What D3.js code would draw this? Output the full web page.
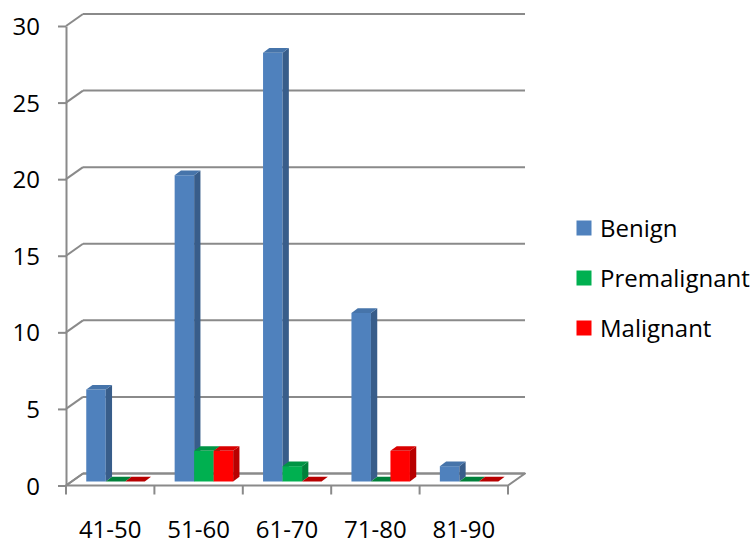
<!DOCTYPE html>
<html>
<head>
<meta charset="utf-8">
<script src="https://cdn.jsdelivr.net/npm/d3@7"></script>
<style>
  html, body { margin: 0; padding: 0; background: #fff; }
  svg { display: block; }
  text { font-family: "Open Sans", "Liberation Sans", sans-serif; fill: #000; }
</style>
</head>
<body>
<svg id="chart" width="755" height="544"></svg>
<script>
const categories = ["41-50", "51-60", "61-70", "71-80", "81-90"];
const seriesNames = ["Benign", "Premalignant", "Malignant"];
const benign = [6, 20, 28, 11, 1];
const premalignant = [0, 2, 1, 0, 0];
const malignant = [0, 2, 0, 2, 0];
const yTicks = [0, 5, 10, 15, 20, 25, 30];

const seriesValues = [benign, premalignant, malignant];
const colors = {
  Benign:       { front: "#4F81BD", side: "#385D8A", top: "#4674AA" },
  Premalignant: { front: "#00B050", side: "#00803A", top: "#009444" },
  Malignant:    { front: "#FF0000", side: "#B80000", top: "#D90000" }
};

const svg = d3.select("#chart");
const gridColor = "#8A8A8A";
const fontSize = "24px";

// Scales (front plane)
const x = d3.scaleBand().domain(categories).range([66, 508]).paddingInner(0).paddingOuter(0);
const y = d3.scaleLinear().domain([0, 30]).range([485.5, 26]);

// Depth offsets
const WDX = 17, WDY = -12;      // wall depth
const BOX = 5.3, BOY = -4;      // bar front face offset into depth
const BDX = 6.3, BDY = -4.7;    // bar depth
const barW = 19.5;

const g = svg.append("g");

// Floor
const fx0 = x.range()[0], fx1 = x.range()[1], fy = y(0);
g.append("path")
  .attr("d", `M${fx0},${fy}L${fx1},${fy}L${fx1 + WDX},${fy + WDY}L${fx0 + WDX},${fy + WDY}Z`)
  .attr("fill", "#fff").attr("stroke", gridColor).attr("stroke-width", 2)
  .attr("stroke-linejoin", "round");

// Back wall gridlines + left wall diagonals
yTicks.forEach(t => {
  const yy = y(t);
  g.append("line")
    .attr("x1", fx0 + WDX).attr("x2", fx1 + WDX)
    .attr("y1", yy + WDY).attr("y2", yy + WDY)
    .attr("stroke", gridColor).attr("stroke-width", 2);
  g.append("line")
    .attr("x1", fx0).attr("x2", fx0 + WDX)
    .attr("y1", yy).attr("y2", yy + WDY)
    .attr("stroke", gridColor).attr("stroke-width", 2);
});

// Y axis
const yAxis = d3.axisLeft(y).tickValues(yTicks).tickSizeInner(8).tickSizeOuter(0).tickPadding(18);
const yAxisG = g.append("g").attr("transform", `translate(${fx0},0)`).call(yAxis);
yAxisG.select(".domain").attr("stroke", gridColor).attr("stroke-width", 2);
yAxisG.selectAll(".tick line").attr("stroke", gridColor).attr("stroke-width", 2);
yAxisG.selectAll(".tick text")
  .style("font-family", '"Open Sans", sans-serif')
  .style("font-size", fontSize).attr("fill", "#000").attr("dy", "0.36em");

// X axis: labels at band centers, tick marks at band boundaries
const xAxis = d3.axisBottom(x).tickSize(0).tickPadding(0);
const xAxisG = g.append("g").attr("transform", `translate(0,${fy})`).call(xAxis);
xAxisG.select(".domain").remove();
xAxisG.selectAll(".tick text")
  .style("font-family", '"Open Sans", sans-serif')
  .style("font-size", fontSize).attr("fill", "#000")
  .attr("y", 52.5).attr("dy", 0);
const bounds = categories.map(c => x(c)).concat([fx1]);
g.selectAll("line.xtick").data(bounds).enter().append("line")
  .attr("class", "xtick")
  .attr("x1", d => d).attr("x2", d => d)
  .attr("y1", fy).attr("y2", fy + 9)
  .attr("stroke", gridColor).attr("stroke-width", 2);

// Bars (draw left to right)
const bars = g.append("g");
categories.forEach((c, ci) => {
  const pad = (x.bandwidth() - barW * seriesNames.length) / 2;
  seriesNames.forEach((s, si) => {
    const v = seriesValues[si][ci];
    const col = colors[s];
    const xl = x(c) + pad + si * barW + BOX;
    const xr = xl + barW;
    const yb = y(0) + BOY;
    const yt = y(v) + BOY;
    if (v > 0) {
      bars.append("path")
        .attr("d", `M${xl},${yb}L${xr},${yb}L${xr},${yt}L${xl},${yt}Z`)
        .attr("fill", col.front);
      bars.append("path")
        .attr("d", `M${xr},${yb}L${xr + BDX},${yb + BDY}L${xr + BDX},${yt + BDY}L${xr},${yt}Z`)
        .attr("fill", col.side);
    }
    bars.append("path")
      .attr("d", `M${xl},${yt}L${xr},${yt}L${xr + BDX},${yt + BDY}L${xl + BDX},${yt + BDY}Z`)
      .attr("fill", v > 0 ? col.top : col.side);
  });
});

// Legend
const legend = svg.append("g");
const legendY = [228, 278, 328];
seriesNames.forEach((s, i) => {
  legend.append("rect")
    .attr("x", 576.5).attr("y", legendY[i] - 7.5)
    .attr("width", 15).attr("height", 15)
    .attr("fill", colors[s].front);
  legend.append("text")
    .attr("x", 600).attr("y", legendY[i])
    .attr("dy", "0.36em")
    .style("font-size", fontSize)
    .text(s);
});
</script>
</body>
</html>
